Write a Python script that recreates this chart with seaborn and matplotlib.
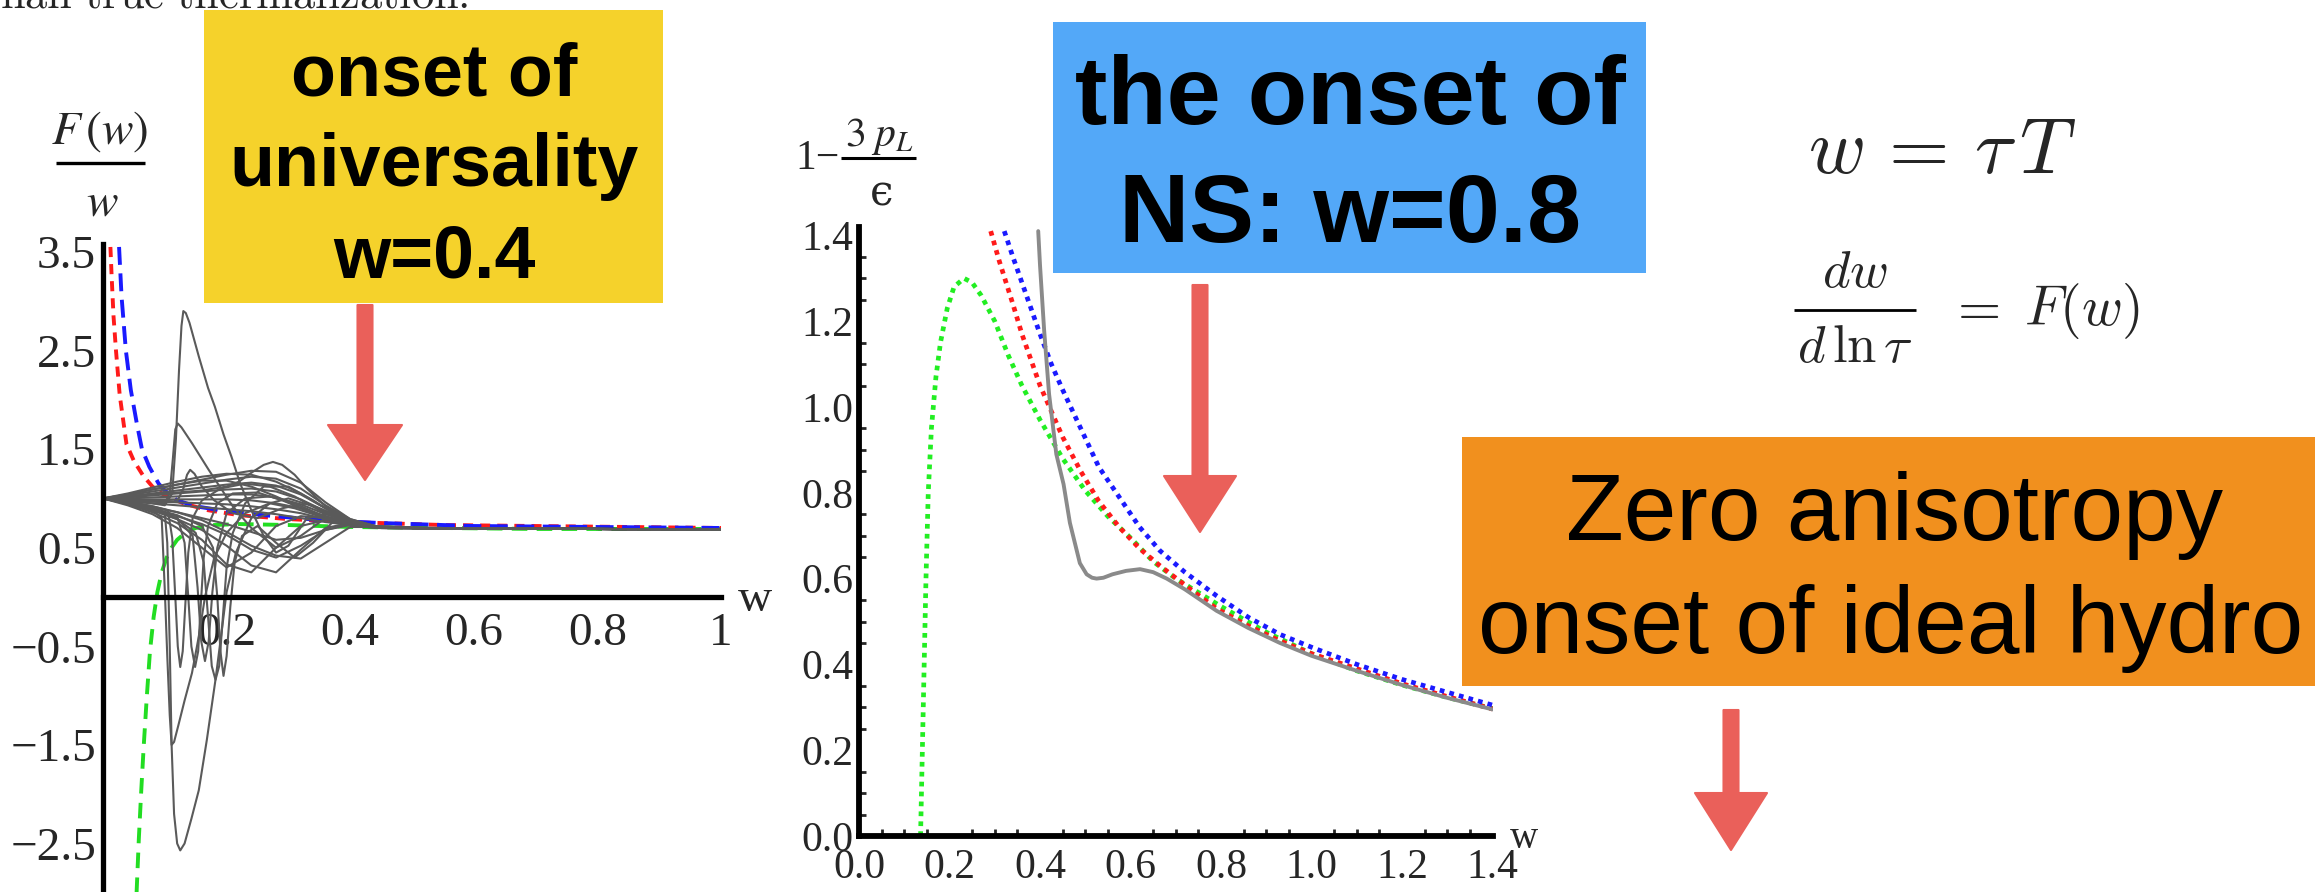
import matplotlib
matplotlib.use("Agg")
import matplotlib.pyplot as plt
from matplotlib.patches import Rectangle, Polygon
from matplotlib.lines import Line2D
from matplotlib.ticker import FixedLocator, MultipleLocator
import seaborn as sns

sns.set_style("white")
plt.rcParams["font.family"] = ["Liberation Serif", "DejaVu Serif"]
plt.rcParams["mathtext.fontset"] = "stix"

W, H = 2315, 892

# ---------------- left panel: F(w)/w ----------------
red_left_w = [0.012, 0.014, 0.017, 0.021, 0.027, 0.038, 0.05, 0.065, 0.08, 0.1, 0.13, 0.17, 0.22, 0.3, 0.4, 0.55, 0.7, 0.85, 1.0]
red_left_v = [3.55, 3.25, 2.85, 2.5, 2.05, 1.55, 1.38, 1.23, 1.12, 1.03, 0.95, 0.88, 0.83, 0.79, 0.76, 0.73, 0.72, 0.71, 0.70]
blue_left_w = [0.026, 0.03, 0.037, 0.045, 0.055, 0.063, 0.075, 0.09, 0.1, 0.12, 0.15, 0.2, 0.26, 0.35, 0.45, 0.6, 0.8, 1.0]
blue_left_v = [3.55, 3.05, 2.5, 2.1, 1.75, 1.5, 1.32, 1.15, 1.08, 0.98, 0.92, 0.87, 0.83, 0.78, 0.75, 0.72, 0.71, 0.70]
green_left_w = [0.054, 0.056, 0.058, 0.062, 0.066, 0.071, 0.076, 0.082, 0.088, 0.095, 0.103, 0.111, 0.12, 0.135, 0.15, 0.18, 0.22, 0.3, 0.4, 0.55, 0.7, 0.85, 1.0]
green_left_v = [-3.05, -2.75, -2.45, -1.95, -1.5, -1.0, -0.55, -0.2, 0.05, 0.25, 0.4, 0.5, 0.58, 0.66, 0.70, 0.73, 0.74, 0.73, 0.71, 0.70, 0.69, 0.69, 0.69]

# smooth trajectories sampled on a shared grid
fan_w = [0, 0.04, 0.08, 0.12, 0.16, 0.20, 0.24, 0.28, 0.32, 0.36, 0.40, 0.44, 0.50, 0.60, 0.80, 1.00]
fan_v = [
    [1.00, 1.04, 1.09, 1.14, 1.19, 1.24, 1.28, 1.27, 1.16, 0.96, 0.79, 0.72, 0.70, 0.695, 0.69, 0.685],
    [1.00, 1.03, 1.07, 1.11, 1.15, 1.19, 1.22, 1.20, 1.10, 0.93, 0.79, 0.72, 0.70, 0.695, 0.69, 0.685],
    [1.00, 1.02, 1.05, 1.08, 1.11, 1.14, 1.16, 1.13, 1.04, 0.90, 0.78, 0.72, 0.70, 0.695, 0.69, 0.685],
    [1.00, 1.01, 1.03, 1.05, 1.07, 1.09, 1.10, 1.07, 0.99, 0.87, 0.77, 0.71, 0.70, 0.695, 0.69, 0.685],
    [1.00, 1.00, 1.01, 1.02, 1.03, 1.04, 1.04, 1.01, 0.94, 0.84, 0.76, 0.71, 0.70, 0.695, 0.69, 0.685],
    [1.00, 0.99, 0.99, 0.99, 0.99, 0.99, 0.98, 0.95, 0.90, 0.82, 0.75, 0.71, 0.70, 0.695, 0.69, 0.685],
    [1.00, 0.98, 0.97, 0.96, 0.95, 0.94, 0.92, 0.89, 0.85, 0.79, 0.74, 0.71, 0.70, 0.695, 0.69, 0.685],
    [1.00, 0.97, 0.95, 0.93, 0.91, 0.89, 0.87, 0.84, 0.80, 0.76, 0.73, 0.70, 0.695, 0.69, 0.69, 0.685],
    [1.00, 1.05, 1.11, 1.17, 1.22, 1.25, 1.24, 1.17, 1.05, 0.90, 0.78, 0.72, 0.70, 0.695, 0.69, 0.685],
    [1.00, 1.04, 1.09, 1.14, 1.18, 1.18, 1.12, 1.02, 0.90, 0.80, 0.74, 0.71, 0.70, 0.695, 0.69, 0.685],
    [1.00, 0.96, 0.91, 0.86, 0.80, 0.74, 0.66, 0.58, 0.60, 0.68, 0.73, 0.71, 0.70, 0.695, 0.69, 0.685],
    [1.00, 0.95, 0.89, 0.82, 0.74, 0.63, 0.48, 0.40, 0.52, 0.68, 0.74, 0.71, 0.70, 0.695, 0.69, 0.685],
    [1.00, 0.95, 0.88, 0.79, 0.68, 0.52, 0.32, 0.25, 0.48, 0.70, 0.75, 0.71, 0.70, 0.695, 0.69, 0.685],
    [1.00, 0.94, 0.86, 0.75, 0.58, 0.33, 0.25, 0.50, 0.72, 0.78, 0.74, 0.71, 0.70, 0.695, 0.69, 0.685],
    [1.00, 0.97, 0.92, 0.86, 0.78, 0.66, 0.52, 0.42, 0.39, 0.55, 0.71, 0.71, 0.70, 0.695, 0.69, 0.685],
    [1.00, 0.93, 0.84, 0.70, 0.50, 0.30, 0.45, 0.72, 0.82, 0.80, 0.74, 0.71, 0.70, 0.695, 0.69, 0.685],
]

# trajectories with sharp excursions, each on its own grid
spike_w = [
    [0, 0.04, 0.08, 0.12, 0.16, 0.2, 0.22, 0.24, 0.26, 0.275, 0.29, 0.31, 0.33, 0.36, 0.4, 0.44, 0.5, 0.6, 0.8, 1.0],
    [0, 0.04, 0.08, 0.10, 0.112, 0.118, 0.123, 0.127, 0.130, 0.134, 0.14, 0.155, 0.17, 0.181, 0.195, 0.208, 0.222, 0.24, 0.26, 0.28, 0.30, 0.33, 0.37, 0.41, 0.45, 0.6, 0.8, 1.0],
    [0, 0.04, 0.08, 0.10, 0.108, 0.113, 0.117, 0.121, 0.127, 0.144, 0.171, 0.192, 0.21, 0.24, 0.28, 0.32, 0.36, 0.40, 0.45, 0.6, 0.8, 1.0],
    [0, 0.04, 0.08, 0.12, 0.13, 0.136, 0.141, 0.148, 0.16, 0.18, 0.21, 0.25, 0.29, 0.33, 0.37, 0.41, 0.45, 0.6, 0.8, 1.0],
    [0, 0.04, 0.08, 0.10, 0.104, 0.108, 0.111, 0.115, 0.12, 0.125, 0.132, 0.143, 0.155, 0.168, 0.182, 0.192, 0.20, 0.215, 0.24, 0.27, 0.30, 0.34, 0.38, 0.42, 0.45, 0.6, 0.8, 1.0],
    [0, 0.04, 0.08, 0.095, 0.10, 0.104, 0.108, 0.111, 0.115, 0.122, 0.132, 0.144, 0.155, 0.165, 0.18, 0.20, 0.23, 0.27, 0.31, 0.35, 0.39, 0.43, 0.5, 0.6, 0.8, 1.0],
    [0, 0.04, 0.08, 0.105, 0.112, 0.117, 0.121, 0.125, 0.129, 0.133, 0.138, 0.145, 0.16, 0.19, 0.23, 0.27, 0.31, 0.35, 0.39, 0.43, 0.5, 0.6, 0.8, 1.0],
    [0, 0.04, 0.08, 0.12, 0.132, 0.138, 0.143, 0.149, 0.154, 0.158, 0.163, 0.17, 0.185, 0.21, 0.25, 0.29, 0.33, 0.37, 0.41, 0.45, 0.6, 0.8, 1.0],
    [0, 0.04, 0.08, 0.12, 0.15, 0.163, 0.17, 0.176, 0.182, 0.188, 0.194, 0.2, 0.21, 0.23, 0.26, 0.3, 0.34, 0.38, 0.42, 0.46, 0.6, 0.8, 1.0],
    [0, 0.04, 0.08, 0.12, 0.145, 0.153, 0.159, 0.165, 0.171, 0.177, 0.185, 0.2, 0.23, 0.27, 0.31, 0.35, 0.39, 0.43, 0.6, 0.8, 1.0],
    [0, 0.04, 0.08, 0.12, 0.16, 0.178, 0.185, 0.19, 0.195, 0.2, 0.206, 0.213, 0.225, 0.25, 0.28, 0.31, 0.34, 0.37, 0.40, 0.44, 0.6, 0.8, 1.0],
]
spike_v = [
    [1.0, 1.02, 1.04, 1.06, 1.08, 1.12, 1.17, 1.26, 1.34, 1.37, 1.34, 1.24, 1.10, 0.92, 0.77, 0.71, 0.70, 0.695, 0.69, 0.685],
    [1.0, 0.98, 0.95, 0.93, 1.05, 1.6, 2.3, 2.75, 2.9, 2.88, 2.78, 2.44, 2.12, 1.93, 1.65, 1.42, 1.15, 0.88, 0.62, 0.45, 0.52, 0.80, 0.85, 0.74, 0.70, 0.695, 0.69, 0.685],
    [1.0, 0.99, 0.97, 0.95, 1.05, 1.4, 1.7, 1.76, 1.72, 1.56, 1.29, 1.09, 0.92, 0.70, 0.50, 0.62, 0.80, 0.74, 0.70, 0.695, 0.69, 0.685],
    [1.0, 0.99, 0.98, 0.97, 1.1, 1.24, 1.29, 1.25, 1.12, 0.98, 0.85, 0.80, 0.90, 0.95, 0.85, 0.74, 0.70, 0.695, 0.69, 0.685],
    [1.0, 0.96, 0.90, 0.85, 0.55, -0.5, -1.5, -2.2, -2.5, -2.57, -2.5, -2.25, -1.96, -1.45, -0.84, -0.35, 0.05, 0.45, 0.80, 0.95, 1.00, 0.92, 0.80, 0.73, 0.70, 0.695, 0.69, 0.685],
    [1.0, 0.95, 0.88, 0.80, 0.07, -0.6, -1.2, -1.5, -1.47, -1.3, -1.05, -0.77, -0.4, 0.0, 0.4, 0.65, 0.85, 0.95, 0.9, 0.82, 0.75, 0.71, 0.70, 0.695, 0.69, 0.685],
    [1.0, 0.97, 0.92, 0.88, 0.6, 0.0, -0.5, -0.71, -0.55, -0.1, 0.45, 0.8, 0.98, 1.1, 1.15, 1.12, 1.02, 0.88, 0.77, 0.71, 0.70, 0.695, 0.69, 0.685],
    [1.0, 0.96, 0.90, 0.82, 0.55, 0.0, -0.5, -0.71, -0.55, -0.1, 0.4, 0.72, 0.95, 1.05, 1.06, 0.98, 0.88, 0.79, 0.73, 0.70, 0.695, 0.69, 0.685],
    [1.0, 0.95, 0.88, 0.79, 0.65, 0.35, -0.2, -0.7, -0.84, -0.7, -0.2, 0.3, 0.65, 0.95, 1.12, 1.12, 0.98, 0.82, 0.73, 0.70, 0.695, 0.69, 0.685],
    [1.0, 0.96, 0.89, 0.8, 0.62, 0.1, -0.45, -0.65, -0.45, 0.05, 0.5, 0.85, 1.0, 1.02, 0.95, 0.84, 0.76, 0.71, 0.695, 0.69, 0.685],
    [1.0, 0.96, 0.9, 0.83, 0.72, 0.5, 0.0, -0.55, -0.8, -0.6, -0.1, 0.35, 0.62, 0.72, 0.55, 0.4, 0.55, 0.75, 0.76, 0.71, 0.695, 0.69, 0.685],
]

left_xticks = [0.2, 0.4, 0.6, 0.8, 1.0]
left_xlabels = ["0.2", "0.4", "0.6", "0.8", "1"]
left_yticks = [-2.5, -1.5, -0.5, 0.5, 1.5, 2.5, 3.5]
left_ylabels = ["\u22122.5", "\u22121.5", "\u22120.5", "0.5", "1.5", "2.5", "3.5"]

# ---------------- middle panel: 1 - 3 p_L / eps ----------------
green_mid_w = [0.136, 0.140, 0.144, 0.148, 0.153, 0.16, 0.17, 0.18, 0.195, 0.21, 0.232, 0.25, 0.27, 0.3, 0.33, 0.36, 0.4, 0.45, 0.5, 0.55, 0.6, 0.65, 0.7, 0.8, 0.9, 1.0, 1.1, 1.2, 1.3, 1.4]
green_mid_v = [0.0, 0.2, 0.4, 0.6, 0.8, 0.95, 1.07, 1.15, 1.23, 1.28, 1.30, 1.29, 1.26, 1.20, 1.12, 1.05, 0.97, 0.88, 0.805, 0.745, 0.695, 0.64, 0.60, 0.535, 0.475, 0.425, 0.385, 0.352, 0.323, 0.297]
red_mid_w = [0.291, 0.31, 0.34, 0.36, 0.38, 0.4, 0.425, 0.45, 0.49, 0.53, 0.575, 0.62, 0.665, 0.72, 0.79, 0.86, 0.93, 1.0, 1.1, 1.2, 1.3, 1.4]
red_mid_v = [1.41, 1.34, 1.24, 1.17, 1.11, 1.05, 0.99, 0.93, 0.85, 0.78, 0.72, 0.67, 0.63, 0.585, 0.53, 0.49, 0.455, 0.425, 0.39, 0.355, 0.325, 0.296]
blue_mid_w = [0.321, 0.34, 0.36, 0.38, 0.4, 0.425, 0.45, 0.49, 0.53, 0.575, 0.62, 0.665, 0.72, 0.79, 0.86, 0.93, 1.0, 1.1, 1.2, 1.3, 1.4]
blue_mid_v = [1.41, 1.35, 1.29, 1.23, 1.17, 1.10, 1.04, 0.95, 0.86, 0.79, 0.72, 0.665, 0.615, 0.56, 0.51, 0.47, 0.44, 0.40, 0.365, 0.335, 0.305]
gray_mid_w = [0.396, 0.40, 0.409, 0.42, 0.436, 0.452, 0.466, 0.488, 0.503, 0.515, 0.525, 0.54, 0.56, 0.59, 0.621, 0.65, 0.68, 0.72, 0.79, 0.86, 0.93, 1.0, 1.1, 1.2, 1.3, 1.4]
gray_mid_v = [1.41, 1.33, 1.18, 1.03, 0.89, 0.82, 0.73, 0.636, 0.61, 0.602, 0.60, 0.602, 0.61, 0.618, 0.622, 0.615, 0.60, 0.575, 0.525, 0.485, 0.45, 0.42, 0.385, 0.352, 0.322, 0.295]

mid_ticks = [0.0, 0.2, 0.4, 0.6, 0.8, 1.0, 1.2, 1.4]
mid_labels = ["0.0", "0.2", "0.4", "0.6", "0.8", "1.0", "1.2", "1.4"]


def fx(px):
    return px / W


def fy(py):
    return 1 - py / H


def draw(ax, x, y, color, lw, ls="-", z=2):
    sns.lineplot(x=x, y=y, ax=ax, color=color, linewidth=lw, linestyle=ls,
                 estimator=None, sort=False, legend=False, zorder=z,
                 dash_capstyle="butt")


def hline(x0, x1, y, lw=2.2):
    fig.add_artist(Line2D([fx(x0), fx(x1)], [fy(y), fy(y)], transform=fig.transFigure,
                          color="black", linewidth=lw, solid_capstyle="butt"))


fig = plt.figure(figsize=(W / 100, H / 100), dpi=100)
fig.patch.set_facecolor("white")

# ---- left axes ----
y_lo, y_hi = -3.0, 3.58
ppu = 98.6
top_px = 597 - ppu * y_hi
bot_px = 597 - ppu * y_lo
axL = fig.add_axes([fx(103), fy(bot_px), fx(721) - fx(103), (bot_px - top_px) / H])
axL.set_facecolor("none")
draw(axL, green_left_w, green_left_v, "#22dd22", 2.8, (0, (4.0, 2.4)))
draw(axL, red_left_w, red_left_v, "#ff1a1a", 2.8, (0, (2.6, 1.8)))
draw(axL, blue_left_w, blue_left_v, "#1a1aff", 2.8, (0, (4.6, 2.2)))
for vals in fan_v:
    draw(axL, fan_w, vals, "#5a5a5a", 1.5, "-", 3)
for ws, vs in zip(spike_w, spike_v):
    draw(axL, ws, vs, "#5a5a5a", 1.5, "-", 3)
axL.set_xlim(0, 1.0)
axL.set_ylim(y_lo, y_hi)
axL.spines["top"].set_visible(False)
axL.spines["right"].set_visible(False)
axL.spines["bottom"].set_position(("data", 0))
for s in ("left", "bottom"):
    axL.spines[s].set_linewidth(3.8)
    axL.spines[s].set_color("black")
    axL.spines[s].set_zorder(4)
axL.xaxis.set_major_locator(FixedLocator(left_xticks))
axL.set_xticklabels(left_xlabels)
axL.yaxis.set_major_locator(FixedLocator(left_yticks))
axL.set_yticklabels(left_ylabels)
axL.tick_params(axis="x", direction="in", length=9, width=3, labelsize=34, pad=11)
axL.tick_params(axis="y", direction="in", length=9, width=3, labelsize=34, pad=5)
axL.set_xlabel("")
axL.set_ylabel("")
axL.grid(False)
fig.text(fx(755), fy(600), "w", fontsize=34, ha="center", va="center")

# F(w)/w axis caption, built as a stacked fraction
fig.text(fx(100), fy(144), r"$F\,(w)$", fontsize=34, ha="center", va="baseline")
hline(56, 145, 163, 2.4)
fig.text(fx(102), fy(216), r"$w$", fontsize=34, ha="center", va="baseline")

# ---- middle axes ----
m_ppu = 429.0
m_top = 836 - m_ppu * 1.42
axM = fig.add_axes([fx(859), fy(836), fx(1492.6) - fx(859), (836 - m_top) / H])
axM.set_facecolor("none")
draw(axM, green_mid_w, green_mid_v, "#22ee22", 3.4, (0, (1.0, 1.1)))
draw(axM, red_mid_w, red_mid_v, "#ff1a1a", 3.4, (0, (1.0, 1.1)))
draw(axM, blue_mid_w, blue_mid_v, "#1a1aff", 3.4, (0, (1.0, 1.1)))
draw(axM, gray_mid_w, gray_mid_v, "#8a8a8a", 2.8, "-", 3)
axM.set_xlim(0, 1.4)
axM.set_ylim(0, 1.42)
axM.spines["top"].set_visible(False)
axM.spines["right"].set_visible(False)
for s in ("left", "bottom"):
    axM.spines[s].set_linewidth(4.2)
    axM.spines[s].set_color("black")
    axM.spines[s].set_zorder(4)
axM.xaxis.set_major_locator(FixedLocator(mid_ticks))
axM.set_xticklabels(mid_labels)
axM.yaxis.set_major_locator(FixedLocator(mid_ticks))
axM.set_yticklabels(mid_labels)
axM.xaxis.set_minor_locator(MultipleLocator(0.05))
axM.yaxis.set_minor_locator(MultipleLocator(0.05))
axM.tick_params(axis="x", which="major", direction="in", length=9, width=2.5, labelsize=30, pad=9)
axM.tick_params(axis="y", which="major", direction="in", length=9, width=2.5, labelsize=30, pad=4)
axM.tick_params(which="minor", direction="in", length=5, width=2, bottom=True, left=True)
axM.set_xlabel("")
axM.set_ylabel("")
axM.grid(False)
fig.text(fx(1524), fy(838), "w", fontsize=28, ha="center", va="center")

# 1 - 3 p_L / eps axis caption, built as a stacked fraction
fig.text(fx(795), fy(159), "1\u2212", fontsize=30, ha="left", va="center")
fig.text(fx(879), fy(146), r"$3\;p_L$", fontsize=30, ha="center", va="baseline")
hline(841, 916, 158, 2.2)
fig.text(fx(882), fy(205), "\u03f5", fontsize=30, ha="center", va="baseline",
         family=["DejaVu Serif", "Liberation Serif"])

# ---- text boxes ----
def box(x0, y0, x1, y1, color):
    fig.add_artist(Rectangle((fx(x0), fy(y1)), fx(x1) - fx(x0), (y1 - y0) / H,
                             transform=fig.transFigure, facecolor=color,
                             edgecolor="none", zorder=5))


box(204, 10, 663, 303, "#f5d22b")
box(1053, 22, 1646, 273, "#53a8f8")
box(1462, 437, 2330, 686, "#f1901e")

bold = dict(family=["Liberation Sans", "DejaVu Sans"], fontweight="bold", color="black",
            ha="center", va="baseline", zorder=6)
for txt, yb in (("onset of", 95), ("universality", 186), ("w=0.4", 277)):
    fig.text(fx(434), fy(yb), txt, fontsize=53, **bold)
for txt, yb in (("the onset of", 124), ("NS: w=0.8", 242)):
    fig.text(fx(1350), fy(yb), txt, fontsize=70, **bold)
light = dict(family=["Liberation Sans", "DejaVu Sans"], fontweight="normal", color="black",
             ha="center", va="baseline", zorder=6)
fig.text(fx(1895), fy(540), "Zero anisotropy", fontsize=68, **light)
fig.text(fx(1891), fy(653), "onset of ideal hydro", fontsize=68, **light)

# ---- equations ----
fig.text(fx(1942), fy(173), r"$w\,=\,\tau\,T$", fontsize=56, ha="center", va="baseline",
         math_fontfamily="cm")
fig.text(fx(1855), fy(287), r"$dw$", fontsize=38, ha="center", va="baseline",
         math_fontfamily="cm")
hline(1794, 1916, 310, 2.0)
fig.text(fx(1855), fy(362), r"$d\,\ln\tau$", fontsize=38, ha="center", va="baseline",
         math_fontfamily="cm")
fig.text(fx(1948), fy(325), r"$=\;F(w)$", fontsize=40, ha="left", va="baseline",
         math_fontfamily="cm")

# clipped running text at the top edge
fig.text(fx(0), fy(8), r"$\mathrm{han\ true\ thermalization.}$", fontsize=32, ha="left",
         va="baseline", math_fontfamily="cm")

# ---- red arrows ----
def arrow(x, y0, y1, y2, s, h):
    pts = [(x - s, y0), (x + s, y0), (x + s, y1), (x + h, y1), (x, y2),
           (x - h, y1), (x - s, y1)]
    fig.add_artist(Polygon([(fx(px), fy(py)) for px, py in pts], closed=True,
                           transform=fig.transFigure, facecolor="#ea605a",
                           edgecolor="#ea605a", linewidth=1.5, joinstyle="round",
                           zorder=6))


arrow(365, 305, 425, 480, 7.5, 37)
arrow(1200, 285, 476, 532, 7.5, 36)
arrow(1731, 710, 793, 850, 7.5, 36)

fig.savefig("out.png", dpi=100, facecolor="white")
